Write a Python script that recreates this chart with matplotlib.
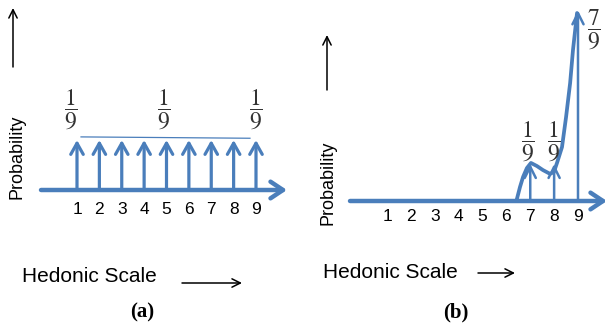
import numpy as np
import matplotlib
matplotlib.use("Agg")
import matplotlib.pyplot as plt
from matplotlib.patches import FancyArrowPatch

plt.rcParams['mathtext.fontset'] = 'stix'

# ---------------- data ----------------
hedonic = [1, 2, 3, 4, 5, 6, 7, 8, 9]
tick_labels = ["1", "2", "3", "4", "5", "6", "7", "8", "9"]

# panel (a): uniform distribution
prob_a = [1/9] * 9
frac_a_x = [0.73, 4.89, 9.0]
frac_a_labels = [r"$\dfrac{1}{9}$"] * 3
guide_a_x = [1.18, 8.73]
guide_a_y = [0.118, 0.115]

# panel (b): skewed distribution
hedonic_b = [7, 8, 9]
prob_b = [1/9, 1/9, 7/9]
frac_b_x = [6.91, 8.0, 9.67]
frac_b_y = [0.194, 0.194, 0.684]
frac_b_labels = [r"$\dfrac{1}{9}$", r"$\dfrac{1}{9}$", r"$\dfrac{7}{9}$"]
curve_x = [6.43, 6.57, 6.70, 6.86, 7.03, 7.28, 7.53, 7.83, 7.99, 8.12,
           8.33, 8.50, 8.67, 8.79, 8.96]
curve_y = [0.0015, 0.035, 0.067, 0.097, 0.115, 0.104, 0.090, 0.077, 0.083,
           0.115, 0.174, 0.294, 0.440, 0.590, 0.765]

BLUE = "#4a7ebb"
W, H = 605, 325

fig = plt.figure(figsize=(W / 100, H / 100), dpi=100)


def fx(px):
    return px / W


def fy(py):
    return 1 - py / H


# ---------------- panel (a) ----------------
sx_a = 22.375
xa0 = 1 - 77 / sx_a
xa1 = 1 + (300 - 77) / sx_a
ax_a = fig.add_axes([0, fy(190), 300 / W, 180 / H])
ax_a.set_xlim(xa0, xa1)
ax_a.set_ylim(0, 0.4)
for s in ax_a.spines.values():
    s.set_visible(False)
ax_a.set_yticks([])
ax_a.set_xticks(hedonic, tick_labels, fontsize=12.5, family="Liberation Sans")
ax_a.tick_params(axis='x', length=0, pad=8.5)
ax_a.patch.set_visible(False)

ax_a.annotate("", xy=(1 + (287 - 77) / sx_a, 0), xytext=(1 + (41 - 77) / sx_a, 0),
              arrowprops=dict(arrowstyle="->,head_length=0.9,head_width=0.6",
                              lw=3.2, color=BLUE, shrinkA=0, shrinkB=0,
                              mutation_scale=10),
              annotation_clip=False)
for x, p in zip(hedonic, prob_a):
    ax_a.annotate("", xy=(x, p), xytext=(x, 0),
                  arrowprops=dict(arrowstyle="->,head_length=0.8,head_width=0.45",
                                  lw=2.3, color=BLUE, shrinkA=0, shrinkB=0,
                                  mutation_scale=10))
ax_a.plot(guide_a_x, guide_a_y, color=BLUE, lw=0.9)
for x, lab in zip(frac_a_x, frac_a_labels):
    ax_a.text(x, 0.178, lab, ha="center", va="center", fontsize=17, color="#333333")

# ---------------- panel (b) ----------------
sx_b = 23.875
xb0 = 1 + (305 - 387) / sx_b
xb1 = 1 + (605 - 387) / sx_b
pw = 0.843
ax_b = fig.add_axes([305 / W, fy(201), 300 / W, 195.2 / H])
ax_b.set_xlim(xb0, xb1)
ax_b.set_yscale("function",
                functions=(lambda y: np.power(np.clip(y, 0, None), pw),
                           lambda y: np.power(np.clip(y, 0, None), 1 / pw)))
ax_b.set_ylim(0, 0.8)
for s in ax_b.spines.values():
    s.set_visible(False)
ax_b.set_yticks([])
ax_b.minorticks_off()
ax_b.set_xticks(hedonic, tick_labels, fontsize=12.5, family="Liberation Sans")
ax_b.tick_params(axis='x', length=0, pad=6)
ax_b.patch.set_visible(False)

ax_b.annotate("", xy=(1 + (607 - 387) / sx_b, 0), xytext=(1 + (350 - 387) / sx_b, 0),
              arrowprops=dict(arrowstyle="->,head_length=0.9,head_width=0.6",
                              lw=3.2, color=BLUE, shrinkA=0, shrinkB=0,
                              mutation_scale=10),
              annotation_clip=False)
for x, p in zip(hedonic_b, prob_b):
    ax_b.annotate("", xy=(x, p), xytext=(x, 0),
                  arrowprops=dict(arrowstyle="->,head_length=0.8,head_width=0.4",
                                  lw=1.8, color=BLUE, shrinkA=0, shrinkB=0,
                                  mutation_scale=10),
                  annotation_clip=False)
ax_b.plot(curve_x, curve_y, color=BLUE, lw=2.7, solid_capstyle="round",
          solid_joinstyle="round", clip_on=False)
for x, y, lab in zip(frac_b_x, frac_b_y, frac_b_labels):
    ax_b.text(x, y, lab, ha="center", va="center", fontsize=17, color="#333333")

# ---------------- labels & black arrows ----------------
for (xp, y0, y1) in [(13, 67, 8), (327, 90, 35)]:
    fig.add_artist(FancyArrowPatch((fx(xp), fy(y0)), (fx(xp), fy(y1)),
                                   transform=fig.transFigure,
                                   arrowstyle="->,head_length=6,head_width=3",
                                   lw=1.1, color="black", shrinkA=0, shrinkB=0))
for (x0, x1, yp) in [(182, 242, 283), (478, 515, 273)]:
    fig.add_artist(FancyArrowPatch((fx(x0), fy(yp)), (fx(x1), fy(yp)),
                                   transform=fig.transFigure,
                                   arrowstyle="->,head_length=6,head_width=3",
                                   lw=1.1, color="black", shrinkA=0, shrinkB=0))

fig.text(fx(17), fy(157), "Probability", rotation=90, ha="center", va="center",
         fontsize=13, family="Liberation Sans")
fig.text(fx(328), fy(183), "Probability", rotation=90, ha="center", va="center",
         fontsize=13, family="Liberation Sans")
fig.text(fx(22), fy(277), "Hedonic Scale", ha="left", va="center",
         fontsize=15, family="Liberation Sans")
fig.text(fx(323), fy(272), "Hedonic Scale", ha="left", va="center",
         fontsize=15, family="Liberation Sans")
fig.text(fx(142), fy(312), "(a)", ha="center", va="center", fontsize=15,
         fontweight="bold", family="Liberation Serif")
fig.text(fx(456), fy(312), "(b)", ha="center", va="center", fontsize=15,
         fontweight="bold", family="Liberation Serif")

fig.savefig("out.png", dpi=100)
